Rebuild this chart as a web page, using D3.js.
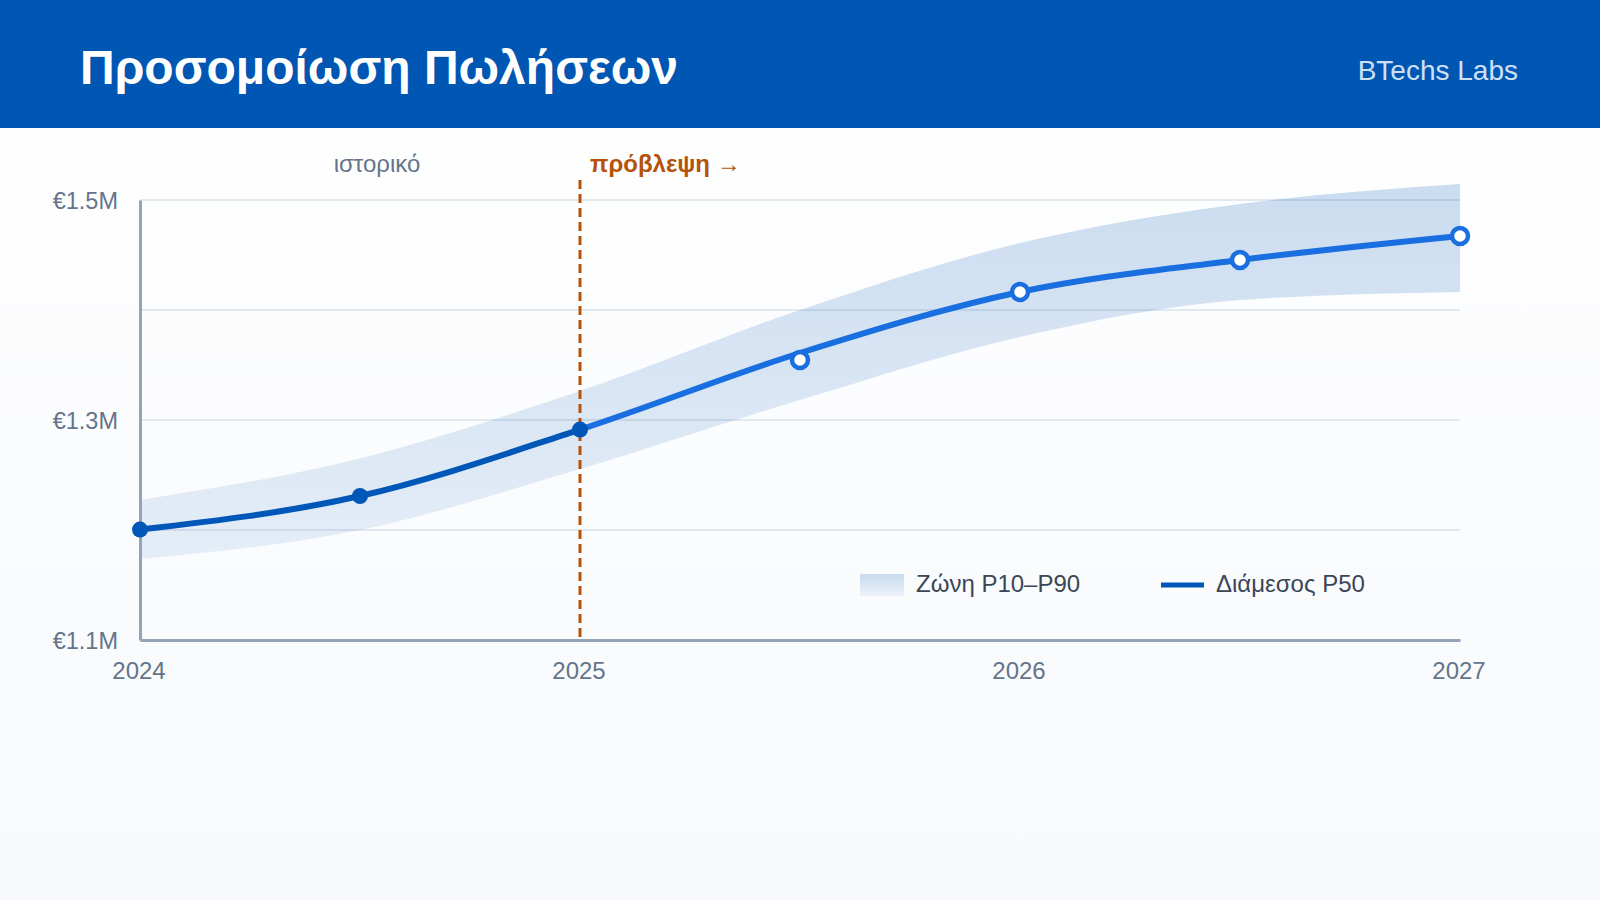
<!DOCTYPE html>
<html>
<head>
<meta charset="utf-8">
<script src="https://cdn.jsdelivr.net/npm/d3@7"></script>
<style>
  html, body { margin: 0; padding: 0; }
  body { width: 1600px; height: 900px; overflow: hidden; font-family: "Liberation Sans", Arial, sans-serif; }
</style>
</head>
<body>
<svg id="chart" width="1600" height="900"></svg>
<script>
// ---- data ----
const periods = [2024, 2024.5, 2025, 2025.5, 2026, 2026.5, 2027];
const p50 = [1.2004, 1.2309, 1.2913, 1.3609, 1.4164, 1.4455, 1.4673];
const markerVals = [1.2004, 1.2309, 1.2913, 1.3545, 1.4164, 1.4455, 1.4673];
const p90 = [1.2273, 1.2650, 1.3264, 1.4000, 1.4609, 1.4964, 1.5145];
const p10 = [1.1736, 1.2000, 1.2555, 1.3182, 1.3755, 1.4091, 1.4164];
const splitYear = 2025;
const xTicks = [2024, 2025, 2026, 2027];
const yLabelTicks = [1.1, 1.3, 1.5];
const yGridTicks = [1.2, 1.3, 1.4, 1.5];
const title = "Προσομοίωση Πωλήσεων";
const brand = "BTechs Labs";
const histLabel = "ιστορικό";
const fcLabel = "πρόβλεψη →";
const legendLabels = ["Ζώνη P10–P90", "Διάμεσος P50"];

const svg = d3.select("#chart");
const W = 1600, H = 900;
const defs = svg.append("defs");

// background gradient
const bg = defs.append("linearGradient").attr("id", "bg").attr("x1", 0).attr("y1", 0).attr("x2", 0).attr("y2", 1);
bg.append("stop").attr("offset", "0%").attr("stop-color", "#ffffff");
bg.append("stop").attr("offset", "100%").attr("stop-color", "#f7f9fc");
svg.append("rect").attr("width", W).attr("height", H).attr("fill", "url(#bg)");

// header
svg.append("rect").attr("x", 0).attr("y", 0).attr("width", W).attr("height", 128).attr("fill", "#0056b3");
svg.append("text").attr("x", 80).attr("y", 84).attr("fill", "#ffffff")
  .attr("font-size", 48).attr("font-weight", "bold").text(title);
svg.append("text").attr("x", 1518).attr("y", 80).attr("fill", "#cfe0f6")
  .attr("text-anchor", "end").attr("font-size", 28).text(brand);

// scales
const x = d3.scaleLinear().domain([2024, 2027]).range([140, 1460]);
const y = d3.scaleLinear().domain([1.1, 1.5]).range([640, 200]);

// gradients
const bandGrad = defs.append("linearGradient").attr("id", "bandGrad")
  .attr("gradientUnits", "userSpaceOnUse").attr("x1", 0).attr("x2", 0)
  .attr("y1", y(1.515)).attr("y2", y(1.17));
bandGrad.append("stop").attr("offset", "0%").attr("stop-color", "#0057b7").attr("stop-opacity", 0.2);
bandGrad.append("stop").attr("offset", "100%").attr("stop-color", "#0057b7").attr("stop-opacity", 0.085);

const swGrad = defs.append("linearGradient").attr("id", "swGrad")
  .attr("x1", 0).attr("x2", 0).attr("y1", 0).attr("y2", 1);
swGrad.append("stop").attr("offset", "0%").attr("stop-color", "#0057b7").attr("stop-opacity", 0.2);
swGrad.append("stop").attr("offset", "100%").attr("stop-color", "#0057b7").attr("stop-opacity", 0.06);

const lineGrad = defs.append("linearGradient").attr("id", "lineGrad")
  .attr("gradientUnits", "userSpaceOnUse").attr("x1", x(2024)).attr("x2", x(2027)).attr("y1", 0).attr("y2", 0);
const sp = (splitYear - 2024) / 3 * 100;
lineGrad.append("stop").attr("offset", "0%").attr("stop-color", "#0057b7");
lineGrad.append("stop").attr("offset", sp + "%").attr("stop-color", "#0057b7");
lineGrad.append("stop").attr("offset", sp + "%").attr("stop-color", "#1a6fe0");
lineGrad.append("stop").attr("offset", "100%").attr("stop-color", "#1a6fe0");

// gridlines
svg.append("g").selectAll("line").data(yGridTicks).join("line")
  .attr("x1", x(2024)).attr("x2", x(2027))
  .attr("y1", d => y(d)).attr("y2", d => y(d))
  .attr("stroke", "#e2e8f0").attr("stroke-width", 2);

// band
const rows = periods.map((p, i) => ({ p, lo: p10[i], hi: p90[i], mid: p50[i], mk: markerVals[i] }));
const area = d3.area().x(d => x(d.p)).y0(d => y(d.lo)).y1(d => y(d.hi)).curve(d3.curveMonotoneX);
svg.append("path").datum(rows).attr("d", area).attr("fill", "url(#bandGrad)");

// axes
const yAxis = d3.axisLeft(y).tickValues(yLabelTicks).tickSize(0).tickPadding(22)
  .tickFormat(d => "€" + d3.format(".1f")(d) + "M");
const gy = svg.append("g").attr("transform", `translate(${x(2024)},0)`).call(yAxis);
gy.select(".domain").attr("stroke", "#94a3b8").attr("stroke-width", 3);
gy.selectAll("text").attr("fill", "#64748b").attr("font-size", 23.5)
  .attr("font-family", "Liberation Sans, Arial, sans-serif").attr("dy", "0.35em");

const xAxis = d3.axisBottom(x).tickValues(xTicks).tickSize(0).tickPadding(22).tickFormat(d3.format("d"));
const gx = svg.append("g").attr("transform", `translate(0,${y(1.1)})`).call(xAxis);
gx.select(".domain").attr("stroke", "#94a3b8").attr("stroke-width", 3);
gx.selectAll("text").attr("fill", "#64748b").attr("font-size", 24).attr("dx", -1.5)
  .attr("font-family", "Liberation Sans, Arial, sans-serif");

// split line
svg.append("line").attr("x1", x(splitYear)).attr("x2", x(splitYear))
  .attr("y1", 180).attr("y2", y(1.1))
  .attr("stroke", "#b45309").attr("stroke-width", 3).attr("stroke-dasharray", "9,5");

svg.append("text").attr("x", 377).attr("y", 172).attr("text-anchor", "middle")
  .attr("fill", "#64748b").attr("font-size", 24).text(histLabel);
svg.append("text").attr("x", 590).attr("y", 172)
  .attr("fill", "#b45309").attr("font-size", 24).attr("font-weight", "bold").text(fcLabel);

// median line
const line = d3.line().x(d => x(d.p)).y(d => y(d.mid)).curve(d3.curveMonotoneX);
svg.append("path").datum(rows).attr("d", line).attr("fill", "none")
  .attr("stroke", "url(#lineGrad)").attr("stroke-width", 6).attr("stroke-linecap", "round");

// markers
svg.append("g").selectAll("circle").data(rows).join("circle")
  .attr("cx", d => x(d.p)).attr("cy", d => y(d.mk))
  .attr("r", 8)
  .attr("fill", d => d.p <= splitYear ? "#0057b7" : "#ffffff")
  .attr("stroke", d => d.p <= splitYear ? "none" : "#1a6fe0")
  .attr("stroke-width", 4.5);

// legend
const lg = svg.append("g");
lg.append("rect").attr("x", 860).attr("y", 574).attr("width", 44).attr("height", 22).attr("fill", "url(#swGrad)");
lg.append("text").attr("x", 916).attr("y", 592).attr("fill", "#3b4657").attr("font-size", 24).text(legendLabels[0]);
lg.append("line").attr("x1", 1161).attr("x2", 1204).attr("y1", 585).attr("y2", 585)
  .attr("stroke", "#0057b7").attr("stroke-width", 5);
lg.append("text").attr("x", 1216).attr("y", 592).attr("fill", "#3b4657").attr("font-size", 24).text(legendLabels[1]);
</script>
</body>
</html>
